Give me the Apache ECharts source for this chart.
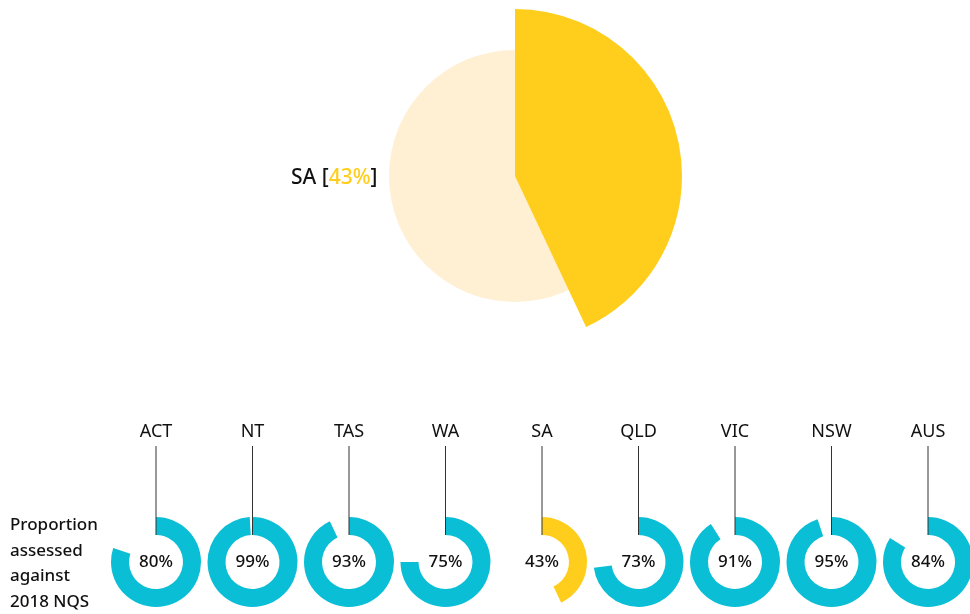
<!DOCTYPE html>
<html>
<head>
<meta charset="utf-8">
<script src="https://cdn.jsdelivr.net/npm/echarts@6/dist/echarts.min.js"></script>
<style>
  html, body { margin: 0; padding: 0; background: #fff; }
  #main { width: 970px; height: 614px; }
</style>
</head>
<body>
<div id="main"></div>
<script>
// 数据
const states = ['ACT', 'NT', 'TAS', 'WA', 'SA', 'QLD', 'VIC', 'NSW', 'AUS'];
const assessed = [80, 99, 93, 75, 43, 73, 91, 95, 84];
const highlight = 'SA';
const sideLabel = ['Proportion', 'assessed', 'against', '2018 NQS'];

const CYAN = '#0abed6';
const YELLOW = '#ffce1c';
const LIGHT = '#fff0d4';
const FONT = 'Noto Sans';

const myChart = echarts.init(document.getElementById('main'));

const hlValue = assessed[states.indexOf(highlight)];

const series = [];
const graphic = [];

// big pie: light full disc + enlarged highlighted slice
series.push({
  type: 'pie',
  center: [515, 176],
  radius: [0, 126],
  startAngle: 90,
  silent: true,
  label: {show: false},
  labelLine: {show: false},
  data: [{value: 100, itemStyle: {color: LIGHT}}]
});
series.push({
  type: 'pie',
  center: [515, 176],
  radius: [0, 167],
  startAngle: 90,
  silent: true,
  label: {show: false},
  labelLine: {show: false},
  data: [
    {value: hlValue, itemStyle: {color: YELLOW}},
    {value: 100 - hlValue, itemStyle: {color: 'rgba(0,0,0,0)'}}
  ]
});

// small donuts
const x0 = 156, dx = 96.5, cy = 562;
for (let i = 0; i < states.length; i++) {
  const cx = x0 + dx * i;
  const col = states[i] === highlight ? YELLOW : CYAN;
  series.push({
    type: 'pie',
    center: [cx, cy],
    radius: [27, 45],
    startAngle: 90,
    silent: true,
    labelLine: {show: false},
    label: {show: false},
    data: [
      {
        value: assessed[i],
        itemStyle: {color: col},
        label: {
          show: true,
          position: 'center',
          formatter: '{c}%',
          fontFamily: FONT,
          fontSize: 17,
          fontWeight: 500,
          color: '#111'
        }
      },
      {value: 100 - assessed[i], itemStyle: {color: 'rgba(0,0,0,0)'}}
    ]
  });
  graphic.push({
    type: 'text',
    style: {
      text: states[i],
      x: cx, y: 432,
      textAlign: 'center',
      textVerticalAlign: 'middle',
      font: '18px "' + FONT + '"',
      fill: '#111'
    }
  });
  graphic.push({
    type: 'line',
    shape: {x1: cx, y1: 446, x2: cx, y2: cy - 27},
    style: {stroke: '#333', lineWidth: 1},
    z: 10
  });
}

// side label
sideLabel.forEach((t, k) => {
  graphic.push({
    type: 'text',
    style: {
      text: t,
      x: 10, y: 525 + k * 25.7,
      textAlign: 'left',
      textVerticalAlign: 'middle',
      font: '500 17px "' + FONT + '"',
      fill: '#111'
    }
  });
});

const option = {
  animation: false,
  backgroundColor: '#fff',
  title: {
    text: '{a|' + highlight + ' [}{b|' + hlValue + '%}{a|]}',
    left: 286,
    top: 163,
    textStyle: {
      rich: {
        a: {fontFamily: FONT, fontSize: 21, fontWeight: 500, color: '#111'},
        b: {fontFamily: FONT, fontSize: 21, fontWeight: 500, color: YELLOW}
      }
    }
  },
  series: series,
  graphic: graphic
};
myChart.setOption(option);
</script>
</body>
</html>
